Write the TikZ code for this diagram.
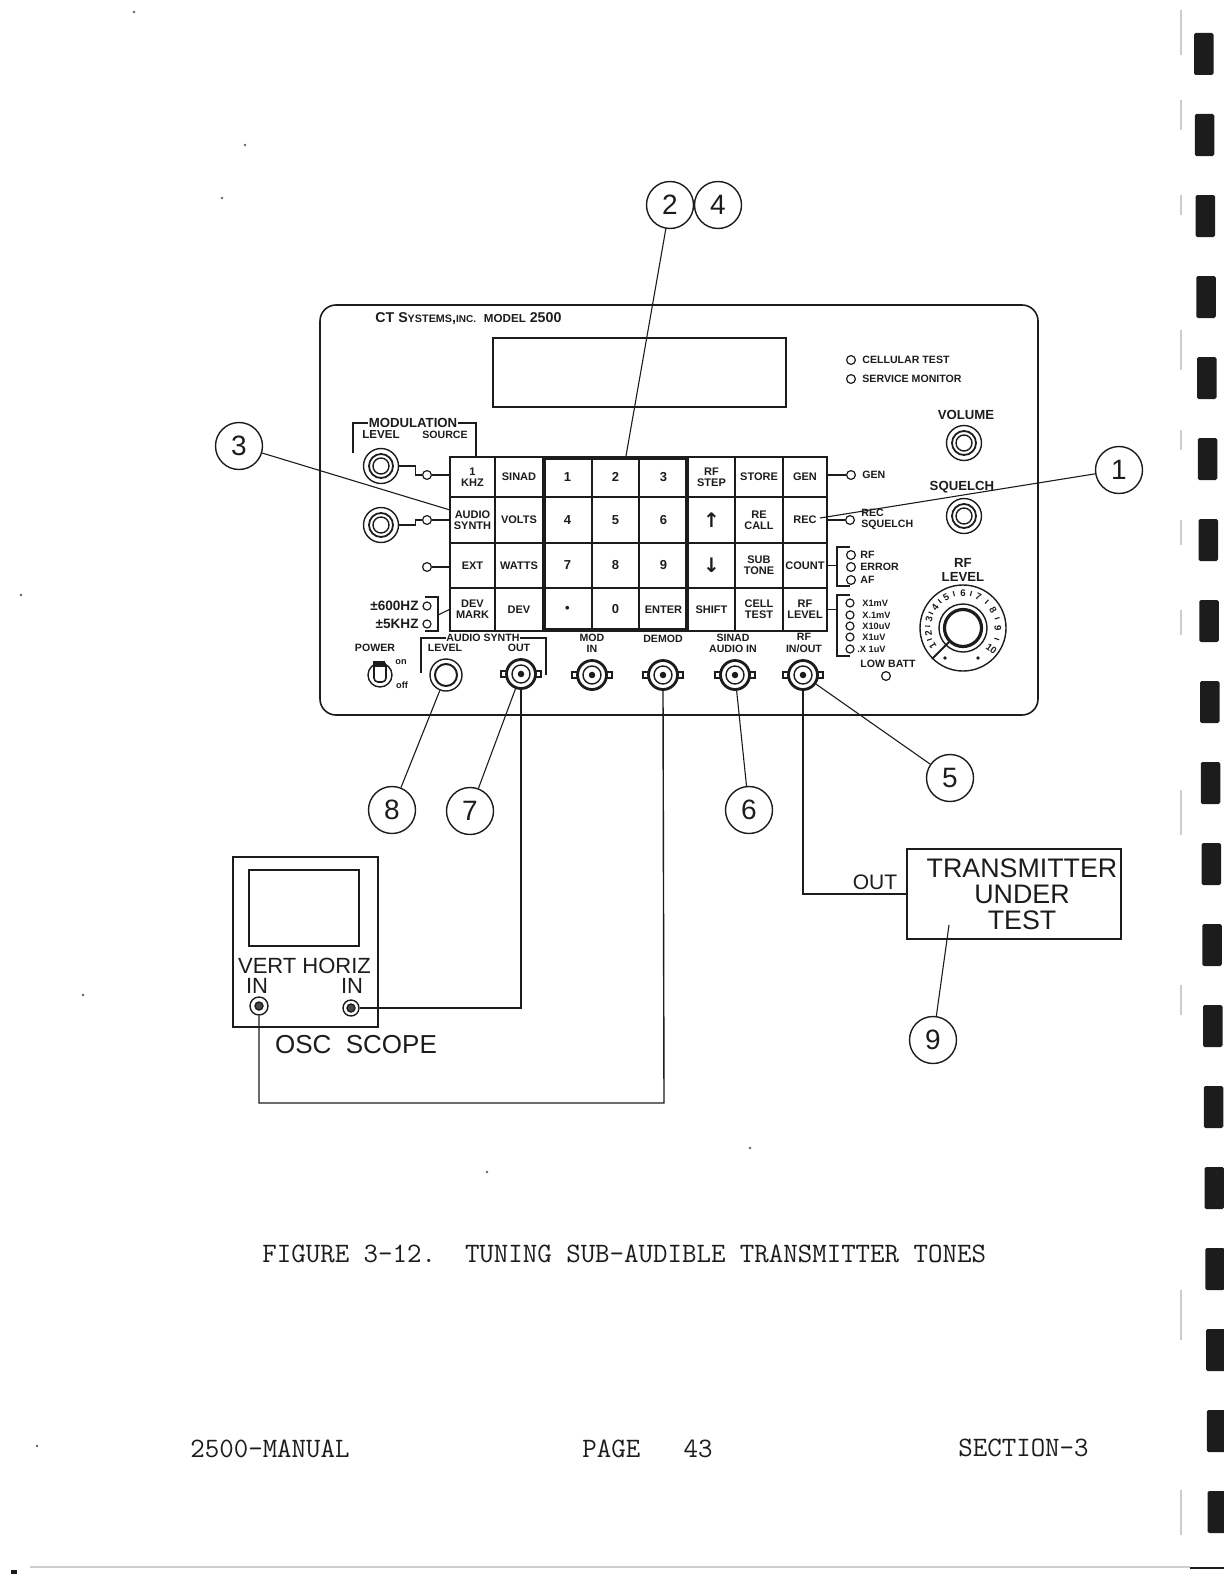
\documentclass[tikz,border=0pt]{standalone}
\usepackage{fontspec}
\setmainfont{Liberation Sans}
\newfontfamily\arrowfont{DejaVu Sans}
\usetikzlibrary{arrows.meta,positioning,shapes,fit}
\definecolor{InkBlack}{RGB}{28,28,28}
\definecolor{PageGray}{RGB}{205,205,205}

\begin{document}
\begin{tikzpicture}[
  x=0.5pt,y=-0.5pt,
  line/.style={draw=InkBlack,line width=0.7pt},
  thinline/.style={draw=InkBlack,line width=0.55pt},
  key/.style 2 args={rectangle,draw=InkBlack,line width=0.6pt,align=center,inner sep=0pt,text=InkBlack,minimum width=#1*0.5pt,minimum height=#2*0.5pt,font=\fontsize{5.5}{5.7}\selectfont\bfseries},
  numkey/.style 2 args={key={#1}{#2},font=\fontsize{6.5}{7}\selectfont\bfseries},
  arrowkey/.style 2 args={key={#1}{#2},font=\arrowfont\fontsize{10}{10}\selectfont\bfseries},
  callout/.style={circle,draw=InkBlack,line width=0.7pt,minimum size=23.5pt,inner sep=0pt,text=InkBlack,font=\fontsize{14}{14}\selectfont},
  ring/.style={circle,draw=InkBlack,line width=0.7pt,inner sep=0pt},
  lamp/.style={circle,draw=InkBlack,line width=0.6pt,minimum size=4.4pt,inner sep=0pt},
  plabel/.style={inner sep=0pt,align=center,text=InkBlack,font=\fontsize{5.3}{5.6}\selectfont\bfseries},
  bigpanel/.style={inner sep=0pt,align=center,text=InkBlack,font=\fontsize{6.6}{7.4}\selectfont\bfseries},
  scopetext/.style={inner sep=0pt,align=center,text=InkBlack,font=\fontsize{11}{11}\selectfont},
  typed/.style={inner sep=0pt,anchor=west,text=InkBlack,font=\fontsize{14.05}{14}\selectfont\ttfamily\addfontfeature{FakeBold=0.6}}
]
\useasboundingbox (0,0) rectangle (1224,1584);

% page edge
\foreach \i in {0,...,18}
  \fill[InkBlack,rounded corners=0.8pt] (1194+0.75*\i,33+81*\i) rectangle ++(19.5,42);
\foreach \y/\h in {10/45,100/30,195/20,330/40,430/20,520/25,610/25,790/45,985/30,1290/50,1490/45}
  \fill[PageGray] (1180,\y) rectangle ++(1.5,\h);
\fill[PageGray] (30,1566) rectangle (1190,1568);
\fill[InkBlack] (1190,1567) rectangle (1224,1568.5);
\fill[InkBlack] (11,1570) rectangle ++(6,4);
\foreach \x/\y in {134/12,245/145,222/198,21/595,83/995,37/1446,750/1148,487/1172}
  \fill[InkBlack!70] (\x,\y) circle (0.7pt);

% front panel
\node[draw=InkBlack,line width=0.8pt,rounded corners=8pt,minimum width=359pt,minimum height=205pt,inner sep=0pt] (panel) at (679,510) {};
\node[rectangle,draw=InkBlack,line width=0.7pt,minimum width=146.5pt,minimum height=34.5pt,inner sep=0pt] (display) at (639.5,372.5) {};
\node[plabel,anchor=west,font=\fontsize{7.1}{7.5}\selectfont\bfseries] (maker) at (375,319) {CT S{\fontsize{5.4}{6}\selectfont YSTEMS},{\fontsize{5}{6}\selectfont INC.}\ \ {\fontsize{5.8}{6}\selectfont MODEL} 2500};

% key field
\node[key={45}{40}] (kkhz) at (472.5,477) {1\\KHZ};
\node[key={48}{40}] (ksinad) at (519,477) {SINAD};
\node[numkey={49}{40}] (kone) at (567.5,477) {1};
\node[numkey={47}{40}] (ktwo) at (615.5,477) {2};
\node[numkey={49}{40}] (kthree) at (663.5,477) {3};
\node[key={47}{40}] (kstep) at (711.5,477) {RF\\STEP};
\node[key={48}{40}] (kstore) at (759,477) {STORE};
\node[key={44}{40}] (kgen) at (805,477) {GEN};
\node[key={45}{46}] (ksynth) at (472.5,520) {AUDIO\\SYNTH};
\node[key={48}{46}] (kvolts) at (519,520) {VOLTS};
\node[numkey={49}{46}] (kfour) at (567.5,520) {4};
\node[numkey={47}{46}] (kfive) at (615.5,520) {5};
\node[numkey={49}{46}] (ksix) at (663.5,520) {6};
\node[arrowkey={47}{46}] (kup) at (711.5,520) {↑};
\node[key={48}{46}] (krecall) at (759,520) {RE\\CALL};
\node[key={44}{46}] (krec) at (805,520) {REC};
\node[key={45}{45}] (kext) at (472.5,565.5) {EXT};
\node[key={48}{45}] (kwatts) at (519,565.5) {WATTS};
\node[numkey={49}{45}] (kseven) at (567.5,565.5) {7};
\node[numkey={47}{45}] (keight) at (615.5,565.5) {8};
\node[numkey={49}{45}] (knine) at (663.5,565.5) {9};
\node[arrowkey={47}{45}] (kdown) at (711.5,565.5) {↓};
\node[key={48}{45}] (ktone) at (759,565.5) {SUB\\TONE};
\node[key={44}{45}] (kcount) at (805,565.5) {COUNT};
\node[key={45}{43}] (kmark) at (472.5,609.5) {DEV\\MARK};
\node[key={48}{43}] (kdev) at (519,609.5) {DEV};
\node[numkey={49}{43}] (kdot) at (567.5,609.5) {•};
\node[numkey={47}{43}] (kzero) at (615.5,609.5) {0};
\node[key={49}{43}] (kenter) at (663.5,609.5) {ENTER};
\node[key={47}{43}] (kshift) at (711.5,609.5) {SHIFT};
\node[key={48}{43}] (kcell) at (759,609.5) {CELL\\TEST};
\node[key={44}{43}] (klevel) at (805,609.5) {RF\\LEVEL};
\node[draw=InkBlack,line width=1.3pt,fit=(kone)(kenter),inner sep=-1pt] (keypad) {};

% knobs
\foreach \nm/\x/\y in {modone/381/466,modtwo/381/525,volume/964/443,squelch/964/516}{
  \node[ring,minimum size=17.5pt] (\nm) at (\x,\y) {};
  \node[ring,line width=0.9pt,minimum size=12pt] (\nm a) at (\nm) {};
  \node[ring,minimum size=8pt] (\nm b) at (\nm) {};
}
\node[ring,minimum size=16pt] (synthlevel) at (446,675) {};
\node[ring,line width=1pt,minimum size=11pt] (synthlevela) at (synthlevel) {};

% connectors
\foreach \nm/\x/\y in {boutp/521/674,bmod/592/675,bdemod/663/675,bsinad/735/675,brf/803/675}{
  \draw[thinline,fill=white] (\x-20,\y-3) rectangle ++(40,6);
  \node[ring,fill=white,line width=1.4pt,minimum size=14.5pt] (\nm) at (\x,\y) {};
  \node[ring,minimum size=9pt] (\nm a) at (\nm) {};
  \node[ring,fill=InkBlack,minimum size=2.5pt] (\nm b) at (\nm) {};
}

% left side
\node[bigpanel] (lblmod) at (413,423) {MODULATION};
\draw[thinline] (lblmod.west) -| (353,453);
\draw[thinline] (lblmod.east) -| (476,456);
\node[plabel,font=\fontsize{5.8}{6}\selectfont\bfseries] (lbllevel) at (381,435) {LEVEL};
\node[plabel] (lblsource) at (445,435) {SOURCE};
\node[lamp] (lampa) at (427,475) {};
\node[lamp] (lampb) at (427,520) {};
\node[lamp] (lampc) at (427,567) {};
\node[lamp,minimum size=4pt] (lampd) at (427,606) {};
\node[lamp,minimum size=4pt] (lampe) at (427,624) {};
\draw[line] (modone.east) -- ++(16,0) |- (lampa.west);
\draw[line] (modtwo.east) -- ++(16,0) |- (lampb.west);
\draw[line] (lampa.east) -- (lampa -| kkhz.west);
\draw[line] (lampb.east) -- (lampb -| ksynth.west);
\draw[line] (lampc.east) -- (lampc -| kext.west);
\draw[thinline] (425,597) -- (438,597) -- (438,631) -- (425,631);
\draw[thinline] (438,615) -- (kmark.west);
\node[plabel,anchor=east,font=\fontsize{6.8}{7}\selectfont\bfseries] (lbl600) at (419,606) {±600HZ};
\node[plabel,anchor=east,font=\fontsize{6.8}{7}\selectfont\bfseries] (lbl5k) at (419,624) {±5KHZ};

% bottom row
\node[plabel] (lblpower) at (375,648) {POWER};
\node[ring,minimum size=12pt] (power) at (380,675) {};
\node[rectangle,rounded corners=2pt,draw=InkBlack,line width=0.8pt,minimum width=6pt,minimum height=10pt,inner sep=0pt] (lever) at (380,672) {};
\fill[InkBlack] (lever.north west) rectangle ++(12,6);
\node[plabel,font=\fontsize{4.6}{5}\selectfont\bfseries] (lblon) at (401,662) {on};
\node[plabel,font=\fontsize{4.6}{5}\selectfont\bfseries] (lbloff) at (402,685) {off};
\node[plabel] (lblsynth) at (483,638) {AUDIO SYNTH};
\draw[thinline] (lblsynth.west) -| (421,673);
\draw[thinline] (lblsynth.east) -| (546,675);
\node[plabel] (lbllevelb) at (445,648) {LEVEL};
\node[plabel] (lblout) at (519,648) {OUT};
\node[plabel] (lblmodin) at (592,643) {MOD\\IN};
\node[plabel] (lbldemod) at (663,639) {DEMOD};
\node[plabel] (lblsinad) at (733,643) {SINAD\\AUDIO IN};
\node[plabel] (lblrf) at (804,643) {RF\\IN/OUT};

% right side
\node[lamp] (lampcell) at (851,360) {};
\node[lamp] (lampserv) at (851,379) {};
\node[plabel,anchor=west] (lblcell) at (862,360) {CELLULAR TEST};
\node[plabel,anchor=west] (lblserv) at (862,379) {SERVICE MONITOR};
\node[bigpanel] (lblvolume) at (966,415) {VOLUME};
\node[bigpanel] (lblsquelch) at (962,487) {SQUELCH};
\node[lamp] (lampgen) at (851,475) {};
\node[lamp] (lamprec) at (850,520) {};
\draw[line] (kgen.east |- lampgen) -- (lampgen.west);
\draw[line] (krec.east) -- (lamprec.west);
\node[plabel,anchor=west] (lblgen) at (862,475) {GEN};
\node[plabel,anchor=west,align=left] (lblrec) at (861,519) {REC\\SQUELCH};
\node[lamp] (lamprf) at (851,555) {};
\node[lamp] (lamperr) at (851,567) {};
\node[lamp] (lampaf) at (851,580) {};
\draw[thinline] (850,547) -- (837,547) -- (837,586) -- (850,586);
\draw[thinline] (kcount.east) -- (837,565.5);
\node[plabel,anchor=west] (lblrf2) at (860,555) {RF};
\node[plabel,anchor=west] (lblerr) at (860,567) {ERROR};
\node[plabel,anchor=west] (lblaf) at (860,580) {AF};
\foreach \nm/\y in {lampx/603,lampy/615,lampz/626,lampu/637,lampv/649}
  \node[lamp,minimum size=4pt] (\nm) at (850,\y) {};
\draw[thinline] (850,595) -- (837,595) -- (837,656) -- (850,656);
\draw[thinline] (klevel.east) -- (837,609.5);
\node[plabel,anchor=west,font=\fontsize{4.6}{5}\selectfont\bfseries] (lblxa) at (862,603) {X1mV};
\node[plabel,anchor=west,font=\fontsize{4.6}{5}\selectfont\bfseries] (lblxb) at (862,615) {X.1mV};
\node[plabel,anchor=west,font=\fontsize{4.6}{5}\selectfont\bfseries] (lblxc) at (862,626) {X10uV};
\node[plabel,anchor=west,font=\fontsize{4.6}{5}\selectfont\bfseries] (lblxd) at (862,637) {X1uV};
\node[plabel,anchor=west,font=\fontsize{4.6}{5}\selectfont\bfseries] (lblxe) at (857,649) {.X 1uV};
\node[plabel] (lblbatt) at (888,664) {LOW BATT};
\node[lamp] (lampbatt) at (886,676) {};

% rf level dial
\node[bigpanel] (lblrflevel) at (963,570) {RF\\LEVEL};
\node[ring,minimum size=43pt] (dial) at (963,628) {};
\node[ring,minimum size=24pt] (dialb) at (dial) {};
\node[ring,line width=1.6pt,minimum size=18.5pt] (dialc) at (dial) {};
\draw[line,line width=1pt] (dial.225) -- (dialc.225);
\foreach \n/\a/\r in {1/150/-240,2/172/-262,3/194/-284,4/217/-307,5/241/-331,6/270/-360,7/296/-386,8/329/-419,9/0/-90,10/36/-36}
  \node[plabel,font=\fontsize{4.8}{5}\selectfont\bfseries,rotate=\r] (dig\n) at ([shift={(\a:35)}]dial) {\n};
\foreach \a in {161,183,205,229,255,283,312,344,18}
  \draw[thinline] ([shift={(\a:33)}]dial.center) -- ([shift={(\a:38)}]dial.center);
\fill[InkBlack] (945,658) circle (0.9pt) (978,658) circle (0.9pt);

% oscilloscope
\node[draw=InkBlack,line width=0.8pt,minimum width=72.5pt,minimum height=85pt,inner sep=0pt] (scope) at (305.5,942) {};
\node[draw=InkBlack,line width=0.8pt,minimum width=55pt,minimum height=38pt,inner sep=0pt] (screen) at (304,908) {};
\node[scopetext] (lblvert) at (304.5,966) {VERT HORIZ};
\node[scopetext] (lblvin) at (257,986) {IN};
\node[scopetext] (lblhin) at (352,986) {IN};
\node[ring,minimum size=9pt] (jackv) at (259,1006) {};
\node[ring,fill=InkBlack!80,minimum size=4pt] (jackva) at (jackv) {};
\node[ring,minimum size=8pt] (jackh) at (351,1008) {};
\node[ring,fill=InkBlack!80,minimum size=4pt] (jackha) at (jackh) {};
\node[scopetext,font=\fontsize{13}{13}\selectfont] (lblscope) at (356,1045) {OSC\ \ SCOPE};

% transmitter
\node[draw=InkBlack,line width=0.8pt,minimum width=107pt,minimum height=45pt,inner sep=0pt] (txbox) at (1014,894) {};
\node[scopetext,font=\fontsize{13.4}{13}\selectfont] (lbltx) at (1022,894) {TRANSMITTER\\UNDER\\TEST};
\node[scopetext,font=\fontsize{10.5}{11}\selectfont] (lbltxout) at (875,882) {OUT};

% wiring
\coordinate (turn) at (664,1103);
\draw[line] (jackh.east) -| (boutp.south);
\draw[line] (bdemod.south) -- (turn) -| (jackv.south);
\draw[line] (brf.south) |- (txbox.west);

% callouts
\node[callout] (numtwo) at (670,205) {2};
\node[callout] (numfour) at (718,205) {4};
\node[callout] (numthree) at (239,446) {3};
\node[callout] (numone) at (1119,470) {1};
\node[callout] (numfive) at (950,778) {5};
\node[callout] (numsix) at (749,810) {6};
\node[callout] (numseven) at (470,811) {7};
\node[callout] (numeight) at (392,810) {8};
\node[callout] (numnine) at (933,1040) {9};
\coordinate (tipone) at (820,518);
\coordinate (tiptwo) at (626,456);
\coordinate (tipthree) at (450,510);
\coordinate (tipnine) at (949,925);
\draw[thinline] (numone) -- (tipone);
\draw[thinline] (numtwo) -- (tiptwo);
\draw[thinline] (numthree) -- (tipthree);
\draw[thinline] (numnine) -- (tipnine);
\draw[thinline] (brf) -- (numfive);
\draw[thinline] (bsinad) -- (numsix);
\draw[thinline] (boutp) -- (numseven);
\draw[thinline] (synthlevel) -- (numeight);

% page text
\node[typed] (caption) at (262,1254) {FIGURE 3-12.\ \ TUNING SUB-AUDIBLE TRANSMITTER TONES};
\node[typed] (footleft) at (190,1449) {2500-MANUAL};
\node[typed] (footmid) at (582,1449) {PAGE\ \ \ 43};
\node[typed] (footright) at (958,1448) {SECTION-3};
\end{tikzpicture}
\end{document}
